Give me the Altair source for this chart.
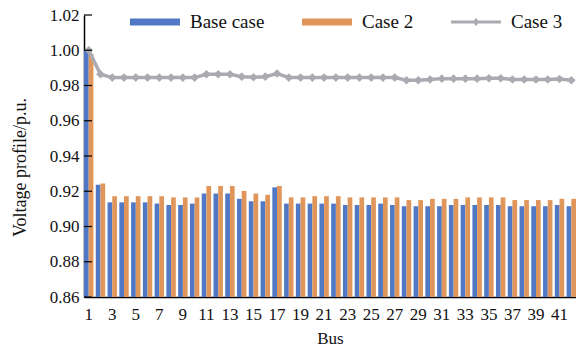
import altair as alt
import pandas as pd

buses = list(range(1, 43))
base_case = [1.000, 0.9237, 0.9137, 0.9137, 0.9137, 0.9137, 0.9130, 0.9122, 0.9122, 0.9130,
             0.9187, 0.9187, 0.9187, 0.9157, 0.9143, 0.9143, 0.9222, 0.9130, 0.9130, 0.9130,
             0.9130, 0.9130, 0.9122, 0.9122, 0.9122, 0.9130, 0.9122, 0.9115, 0.9115, 0.9115,
             0.9115, 0.9122, 0.9122, 0.9122, 0.9122, 0.9122, 0.9115, 0.9115, 0.9115, 0.9115,
             0.9122, 0.9115]
case_2 = [0.998, 0.9244, 0.9172, 0.9172, 0.9172, 0.9172, 0.9172, 0.9165, 0.9165, 0.9165,
          0.9230, 0.9230, 0.9230, 0.9202, 0.9187, 0.9180, 0.9230, 0.9165, 0.9165, 0.9172,
          0.9172, 0.9172, 0.9165, 0.9165, 0.9165, 0.9165, 0.9165, 0.9150, 0.9150, 0.9157,
          0.9157, 0.9157, 0.9165, 0.9165, 0.9165, 0.9165, 0.9150, 0.9150, 0.9150, 0.9150,
          0.9157, 0.9157]
case_3 = [1.000, 0.9864, 0.9845, 0.9845, 0.9845, 0.9845, 0.9845, 0.9845, 0.9845, 0.9845,
          0.9864, 0.9864, 0.9864, 0.9850, 0.9847, 0.9850, 0.9868, 0.9845, 0.9845, 0.9845,
          0.9845, 0.9845, 0.9845, 0.9845, 0.9845, 0.9845, 0.9845, 0.9830, 0.9830, 0.9834,
          0.9839, 0.9839, 0.9839, 0.9839, 0.9841, 0.9841, 0.9834, 0.9834, 0.9834, 0.9834,
          0.9837, 0.9830]
y_ticks = [0.86, 0.88, 0.90, 0.92, 0.94, 0.96, 0.98, 1.00, 1.02]
series_names = ["Base case", "Case 2", "Case 3"]
colors = ["#5078C4", "#E0965A", "#A9ABB1"]

bars_df = pd.DataFrame({
    "bus": buses * 2,
    "series": ["Base case"] * len(buses) + ["Case 2"] * len(buses),
    "value": base_case + case_2,
})
line_df = pd.DataFrame({"bus": buses, "series": "Case 3", "value": case_3})
ticks_df = pd.DataFrame({"value": y_ticks})
legend_df = pd.DataFrame({"series": series_names, "bus": [1, 1, 1], "value": [0.9, 0.9, 0.9]})

FONT = "Liberation Serif"
TXT = "#111111"
rect_path = "M-1,-0.14H1V0.14H-1Z"
line_path = "M-1,-0.06H1V0.06H-1Z M0,-0.17L0.12,0L0,0.17L-0.12,0Z"

bar_color_scale = alt.Scale(domain=series_names[:2], range=colors[:2])
color_scale = alt.Scale(domain=series_names, range=colors)
shape_scale = alt.Scale(domain=series_names, range=[rect_path, rect_path, line_path])
yscale = alt.Scale(domain=[0.86, 1.02], nice=False, zero=False)
xscale = alt.Scale(paddingInner=0.2, paddingOuter=0)

xaxis = alt.Axis(title="Bus", labelAngle=0,
                 labelExpr="datum.value % 2 == 1 ? datum.label : ''",
                 ticks=False, tickSize=0, labelPadding=9, labelOverlap=False,
                 labelFont=FONT, labelFontSize=17, labelColor=TXT,
                 titleFont=FONT, titleFontSize=17, titleFontWeight="normal", titleColor=TXT,
                 titlePadding=8, domainColor="black", domainWidth=1.5, grid=False)
yaxis = alt.Axis(title="Voltage profile/p.u.", values=y_ticks, format=".2f",
                 ticks=False, tickSize=0, labelPadding=5, labelOverlap=False,
                 labelFont=FONT, labelFontSize=17, labelColor=TXT,
                 titleFont=FONT, titleFontSize=18, titleFontWeight="normal", titleColor=TXT,
                 titleAngle=-90, titleX=-59, titleY=152, titleAlign="center",
                 titleBaseline="alphabetic",
                 domainColor="black", domainWidth=1.5, grid=False)

X = alt.X("bus:O", scale=xscale, axis=xaxis)
Y = alt.Y("value:Q", scale=yscale, axis=yaxis)

bars = alt.Chart(bars_df).mark_bar().encode(
    x=X,
    xOffset=alt.XOffset("series:N", scale=alt.Scale(paddingInner=0, paddingOuter=0)),
    y=Y,
    y2=alt.datum(0.86),
    fill=alt.Fill("series:N", scale=bar_color_scale, legend=None),
)

line = alt.Chart(line_df).mark_line(color=colors[2], strokeWidth=3.5).encode(x=X, y=Y)
pts = alt.Chart(line_df).mark_point(shape="diamond", filled=True, size=75,
                                     color=colors[2], opacity=1).encode(x=X, y=Y)

ticks = alt.Chart(ticks_df).mark_rule(color="black", strokeWidth=1.2).encode(
    y=Y,
    x=alt.value(0),
    x2=alt.value(8),
)

leg = dict(title=None, orient="none", legendX=46, legendY=-18, direction="horizontal",
           columnPadding=37, symbolSize=2500, labelOffset=10,
           symbolOpacity=1, symbolStrokeWidth=0,
           labelFont=FONT, labelFontSize=19, labelColor=TXT)
legend_layer = alt.Chart(legend_df).mark_point(filled=True, opacity=0).encode(
    x=X,
    y=Y,
    color=alt.Color("series:N", scale=color_scale, legend=alt.Legend(**leg)),
    shape=alt.Shape("series:N", scale=shape_scale, legend=alt.Legend(**leg)),
)

chart = alt.layer(bars, line, pts, ticks, legend_layer).properties(
    width=492, height=282,
    autosize=alt.AutoSizeParams(type="none"),
    padding={"left": 84, "top": 15, "right": 0, "bottom": 55},
    background="white",
).configure_view(stroke=None).configure_axis(labelOverlap=False)

chart.save("out.html", embed_options={"renderer": "svg", "actions": False})
